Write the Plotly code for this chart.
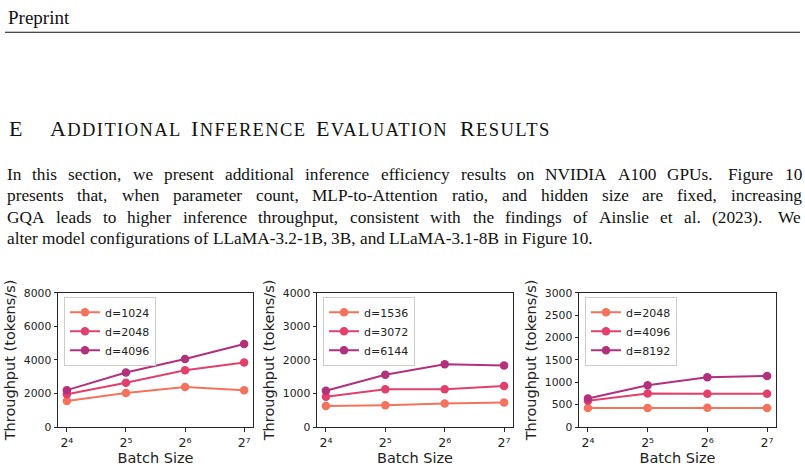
import math
import plotly.graph_objects as go

batch = [16, 32, 64, 128]
tick_text = ["2\u2074", "2\u2075", "2\u2076", "2\u2077"]

labels_1b = ["d=1024", "d=2048", "d=4096"]
vals_1b = [
    [1550, 2030, 2390, 2200],
    [1960, 2640, 3390, 3850],
    [2200, 3250, 4060, 4950],
]
labels_3b = ["d=1536", "d=3072", "d=6144"]
vals_3b = [
    [625, 650, 700, 730],
    [900, 1125, 1130, 1225],
    [1080, 1560, 1870, 1835],
]
labels_8b = ["d=2048", "d=4096", "d=8192"]
vals_8b = [
    [425, 425, 430, 425],
    [590, 750, 745, 745],
    [640, 935, 1115, 1140],
]
y_ranges = [8000, 4000, 3000]
y_dticks = [2000, 1000, 500]

header_text = "Preprint"
heading_num = "E"
heading_words = ["ADDITIONAL", "INFERENCE", "EVALUATION", "RESULTS"]
body = [
    "In this section, we present additional inference efficiency results on NVIDIA A100 GPUs. Figure 10",
    "presents that, when parameter count, MLP-to-Attention ratio, and hidden size are fixed, increasing",
    "GQA leads to higher inference throughput, consistent with the findings of Ainslie et al. (2023). We",
    "alter model configurations of LLaMA-3.2-1B, 3B, and LLaMA-3.1-8B in Figure 10.",
]

colors = ["#f5725c", "#e2406b", "#b3307c"]

W, H = 805, 471
def px(x):
    return x / W
def py(y):
    return 1 - y / H

# Times-Roman advance widths (per 1000 em) for laying out justified text
TW = {' ': 250, '!': 333, '(': 333, ')': 333, ',': 250, '-': 333, '.': 250, '/': 278,
      'A': 722, 'B': 667, 'C': 667, 'D': 722, 'E': 611, 'F': 556, 'G': 722, 'H': 722, 'I': 333,
      'J': 389, 'K': 722, 'L': 611, 'M': 889, 'N': 722, 'O': 722, 'P': 556, 'Q': 722, 'R': 667,
      'S': 556, 'T': 611, 'U': 722, 'V': 722, 'W': 944, 'X': 722, 'Y': 722, 'Z': 611,
      'a': 444, 'b': 500, 'c': 444, 'd': 500, 'e': 444, 'f': 333, 'g': 500, 'h': 500, 'i': 278,
      'j': 278, 'k': 500, 'l': 278, 'm': 778, 'n': 500, 'o': 500, 'p': 500, 'q': 500, 'r': 333,
      's': 389, 't': 278, 'u': 500, 'v': 500, 'w': 722, 'x': 500, 'y': 500, 'z': 444}
def tw(s, size):
    return sum(TW.get(c, 500) for c in s) * size / 1000.0

fig = go.Figure()
domains_x = [(58, 253), (317, 513), (579, 776)]
dom_y = [py(433), py(295)]
panels = [(labels_1b, vals_1b), (labels_3b, vals_3b), (labels_8b, vals_8b)]
lo = math.log10(16) - 0.15 * math.log10(2)
hi = math.log10(128) + 0.15 * math.log10(2)
axis_col = "#262626"

for i, (labs, vals) in enumerate(panels):
    ax = "" if i == 0 else str(i + 1)
    leg = "legend" if i == 0 else f"legend{i+1}"
    for j, (lab, v) in enumerate(zip(labs, vals)):
        fig.add_trace(go.Scatter(
            x=batch, y=v, name=lab, mode="lines+markers",
            line=dict(color=colors[j], width=2),
            marker=dict(color=colors[j], size=8.5),
            xaxis="x" + ax, yaxis="y" + ax, legend=leg,
        ))
    x0, x1 = domains_x[i]
    fig.layout["xaxis" + ax] = dict(
        domain=[px(x0), px(x1)], anchor="y" + ax, type="log",
        range=[lo, hi], tickvals=batch, ticktext=tick_text,
        showline=True, mirror=True, linecolor=axis_col, linewidth=1,
        ticks="outside", ticklen=3.5, tickcolor=axis_col,
        showgrid=False, zeroline=False,
        tickfont=dict(family="DejaVu Sans", size=12.5, color="#222"),
        title=dict(text="Batch Size", font=dict(family="DejaVu Sans", size=14.5, color="#222"), standoff=3),
    )
    fig.layout["yaxis" + ax] = dict(
        domain=dom_y, anchor="x" + ax,
        range=[0, y_ranges[i]], dtick=y_dticks[i], tick0=0,
        showline=True, mirror=True, linecolor=axis_col, linewidth=1,
        ticks="outside", ticklen=3.5, tickcolor=axis_col,
        showgrid=False, zeroline=False,
        tickfont=dict(family="DejaVu Sans", size=10.8, color="#222"),
        title=dict(text="Throughput (tokens/s)", font=dict(family="DejaVu Sans", size=14.5, color="#222"), standoff=4),
    )
    fig.layout[leg] = dict(
        x=px(x0 + 6), y=py(299), xanchor="left", yanchor="top",
        bgcolor="rgba(255,255,255,0.8)", bordercolor="#cccccc", borderwidth=1,
        font=dict(family="DejaVu Sans", size=11, color="#222"),
        tracegroupgap=0, itemwidth=30,
    )

serif = "Liberation Serif"
ink = "#111"
annots = []
def add_text(text, x, y, size, anchor="left"):
    annots.append(dict(text=text, x=px(x), y=py(y), xanchor=anchor, yanchor="middle",
                       xref="paper", yref="paper", showarrow=False,
                       font=dict(family=serif, size=size, color=ink)))

add_text(header_text, 6, 12, 19)

# section heading in small caps, words placed where the reference puts them
C, S, LS = 22, 18.5, 1.4
heading_x = [48, 189, 314, 458]
add_text(heading_num, 7, 126, C)
for w, hx in zip(heading_words, heading_x):
    t = (w[0] + "<span style='font-size:%spx'>%s</span>" % (S, w[1:]))
    t = "<span style='letter-spacing:%spx'>%s</span>" % (LS, t)
    add_text(t, hx, 126, C)

# justified body text
BS = 17.3
left, right = 5, 800
for k, line in enumerate(body):
    words = line.split(" ")
    widths = [tw(w, BS) for w in words]
    last = (k == len(body) - 1)
    weights = [1.4 if (w.endswith(".") and w != "al.") else 1.0 for w in words[:-1]]
    if last:
        unit = 0.25 * BS
    else:
        unit = (right - left - sum(widths)) / sum(weights)
    x = left
    for n, w in enumerate(words):
        add_text(w, x, 173 + 22 * k, BS)
        if n < len(words) - 1:
            x += widths[n] + unit * weights[n]

fig.update_layout(
    width=W, height=H, margin=dict(l=0, r=0, t=0, b=0),
    paper_bgcolor="white", plot_bgcolor="white",
    annotations=annots,
    shapes=[dict(type="line", xref="paper", yref="paper", x0=px(5), x1=px(800), y0=py(27), y1=py(27),
                 line=dict(color=ink, width=1))],
)
fig.write_html("out.html")
